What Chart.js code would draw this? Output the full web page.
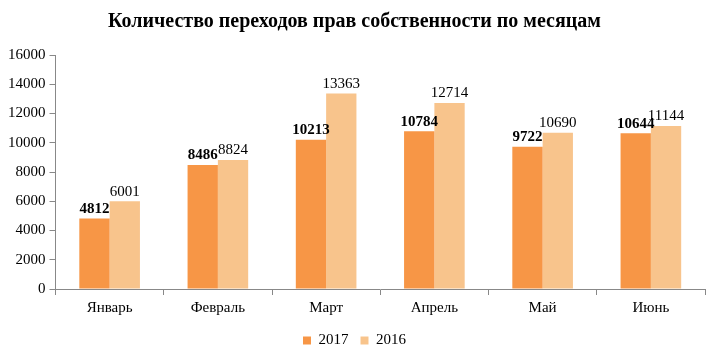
<!DOCTYPE html>
<html>
<head>
<meta charset="utf-8">
<script src="https://cdn.jsdelivr.net/npm/chart.js@4.4.0/dist/chart.umd.min.js"></script>
<style>
  html, body { margin: 0; padding: 0; background: #fff; }
  #wrap { width: 713px; height: 351px; }
</style>
</head>
<body>
<div id="wrap"><canvas id="myBarChart"></canvas></div>
<script>
// data
var months = ["Январь", "Февраль", "Март", "Апрель", "Май", "Июнь"];
var values2017 = [4812, 8486, 10213, 10784, 9722, 10644];
var values2016 = [6001, 8824, 13363, 12714, 10690, 11144];

Chart.defaults.font.family = '"Liberation Serif", "Times New Roman", serif';
Chart.defaults.color = '#000';

// value labels above each bar
var barLabels = {
  id: 'barLabels',
  afterDatasetsDraw: function (chart) {
    var ctx = chart.ctx;
    ctx.save();
    ctx.textAlign = 'center';
    ctx.textBaseline = 'bottom';
    chart.data.datasets.forEach(function (ds, i) {
      var meta = chart.getDatasetMeta(i);
      ctx.font = (i === 0 ? 'bold 15px ' : '15px ') + Chart.defaults.font.family;
      ctx.fillStyle = '#000';
      meta.data.forEach(function (bar, j) {
        ctx.fillText(ds.data[j], bar.x, bar.y - 2);
      });
    });
    ctx.restore();
  }
};

var ctx = document.getElementById("myBarChart");
new Chart(ctx, {
  type: 'bar',
  data: {
    labels: months,
    datasets: [{
      label: "2017",
      backgroundColor: "#F79646",
      data: values2017,
      categoryPercentage: 0.56,
      barPercentage: 1.0
    }, {
      label: "2016",
      backgroundColor: "#F8C48C",
      data: values2016,
      categoryPercentage: 0.56,
      barPercentage: 1.0
    }]
  },
  options: {
    responsive: true,
    maintainAspectRatio: false,
    animation: false,
    layout: { padding: { left: 4, right: 8, top: 0, bottom: -7 } },
    scales: {
      x: {
        grid: { drawOnChartArea: false, drawTicks: true, tickLength: 6, color: '#888' },
        border: { color: '#888' },
        ticks: { font: { size: 15 }, padding: 4 }
      },
      y: {
        min: 0,
        max: 16000,
        grid: { drawOnChartArea: false, drawTicks: true, tickLength: 6, color: '#888' },
        border: { color: '#888' },
        ticks: {
          stepSize: 2000,
          font: { size: 15 },
          padding: 4,
          callback: function (v) { return String(v); }
        }
      }
    },
    plugins: {
      title: {
        display: true,
        text: "Количество переходов прав собственности по месяцам",
        font: { size: 20, weight: 'bold' },
        color: '#000',
        padding: { top: 10, bottom: 21 }
      },
      legend: {
        display: true,
        position: 'bottom',
        labels: { boxWidth: 8, boxHeight: 8, font: { size: 15 }, padding: 12 }
      },
      tooltip: { enabled: false }
    }
  },
  plugins: [barLabels]
});
</script>
</body>
</html>
